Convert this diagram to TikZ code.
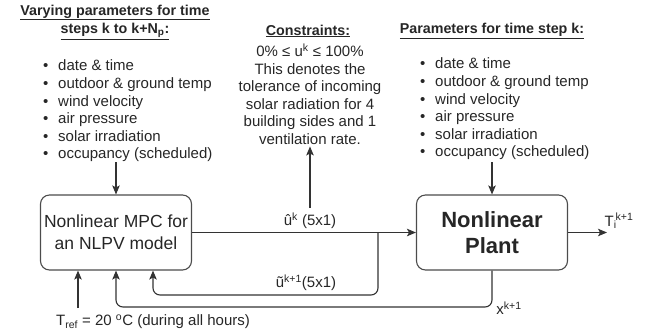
\documentclass[tikz,border=0pt]{standalone}
\usepackage{fontspec}
\setmainfont{Liberation Sans}
\usetikzlibrary{arrows.meta}
\newcommand{\bl}{\makebox[15pt][l]{\textbullet}}
\begin{document}
\begin{tikzpicture}[x=1pt,y=-1pt,
  every node/.style={inner sep=0pt, text=black!85},
  arr/.style={draw=black!80, line width=1.1pt, -{Stealth[length=9pt,width=7.5pt,inset=2pt]}},
  box/.style={draw=black!70, line width=1.1pt, rounded corners=9pt, minimum width=151pt, minimum height=75pt, align=center},
  hdr/.style={font=\fontsize{14.3}{18}\selectfont\bfseries, align=center},
  body/.style={font=\fontsize{15}{17.5}\selectfont, align=center},
  lst/.style={font=\fontsize{15}{17.6}\selectfont, align=left},
]
\useasboundingbox (0,0) rectangle (652,335);

% headers
\node[hdr] (hdrL) at (115,22) {\underline{Varying parameters for time}\\\underline{steps k to k+N\textsubscript{p}:}};
\node[hdr] (hdrC) at (308,31) {\underline{Constraints:}};
\node[hdr] (hdrR) at (492,31) {\underline{Parameters for time step k:}};

% lists
\node[lst, anchor=west] (listL) at (43,111) {\bl date \& time\\\bl outdoor \& ground temp\\\bl wind velocity\\\bl air pressure\\\bl solar irradiation\\\bl occupancy (scheduled)};
\node[lst, anchor=west] (listR) at (420,109) {\bl date \& time\\\bl outdoor \& ground temp\\\bl wind velocity\\\bl air pressure\\\bl solar irradiation\\\bl occupancy (scheduled)};

% constraints
\node[body] (cons) at (310,94) {0\% ≤ u\textsuperscript{k} ≤ 100\%\\This denotes the\\tolerance of incoming\\solar radiation for 4\\building sides and 1\\ventilation rate.};

% boxes
\node[box, font=\fontsize{17.5}{22}\selectfont] (mpc) at (116,232.5) {Nonlinear MPC for\\an NLPV model};
\node[box, font=\fontsize{22}{26}\selectfont\bfseries] (plant) at (492,232.5) {Nonlinear\\Plant};

% labels
\node[body] (labu) at (310,221) {û\textsuperscript{k} (5x1)};
\node[body] (labfb) at (306,283) {ũ\textsuperscript{k+1}(5x1)};
\node[body] (labx) at (509,308) {x\textsuperscript{k+1}};
\node[body] (labT) at (619,221) {T\textsubscript{i}\kern-1pt\textsuperscript{k+1}};
\node[body] (tref) at (153,322) {T\textsubscript{ref} = 20 \textsuperscript{o}C (during all hours)};

\coordinate (j) at (378,232.5);
\coordinate (fb1) at (153,295);
\coordinate (fb2) at (116,307);
\coordinate (out) at (607,232.5);
\coordinate (tr) at (78,308);

% connectors
\draw[arr] (mpc.north |- listL.south) -- (mpc.north);
\draw[arr] (plant.north |- listR.south) ++(0,2) -- (plant.north);
\draw[arr] (mpc.east) -- (plant.west);
\draw[arr] ([yshift=5pt]labu.north) -- ([yshift=-2pt]cons.south);
\draw[arr, rounded corners=7pt] (j) |- (fb1) -- (fb1 |- mpc.south);
\draw[arr, rounded corners=7pt] (plant.south) |- (fb2) -- (mpc.south);
\draw[arr] (tr) -- (tr |- mpc.south);
\draw[arr] (plant.east) -- (out);
\end{tikzpicture}
\end{document}
